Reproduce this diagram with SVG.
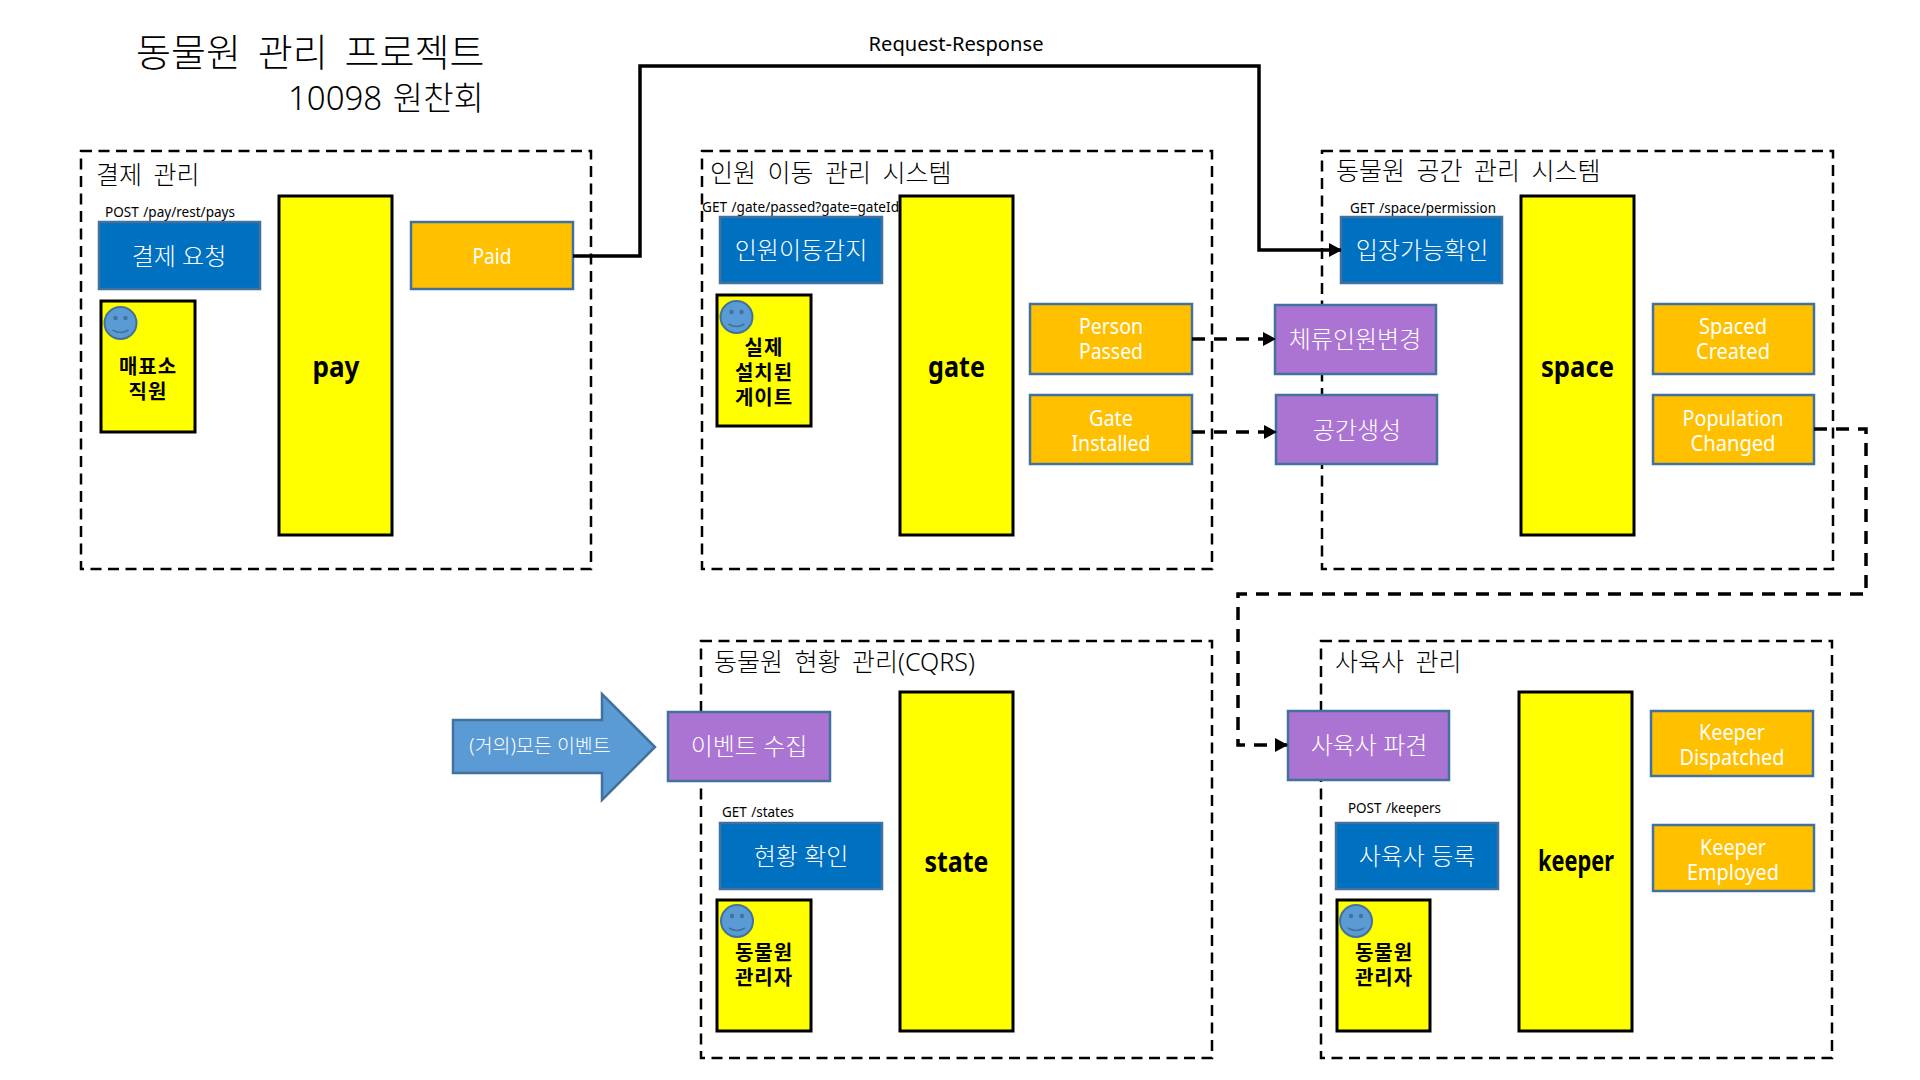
<svg xmlns="http://www.w3.org/2000/svg" width="1920" height="1080" viewBox="0 0 1920 1080">
<style>
text{font-family:"Noto Sans","Noto Sans CJK KR",sans-serif;}
.zone{fill:none;stroke:#000;stroke-width:2.5;stroke-dasharray:11 6.5}
.bar{fill:#ff0;stroke:#000;stroke-width:3}
.cmd{fill:#0070c0;stroke:#41719c;stroke-width:2.5}
.evt{fill:#ffc000;stroke:#41719c;stroke-width:2.5}
.pol{fill:#ab74d3;stroke:#41719c;stroke-width:2.5}
.act{fill:#ff0;stroke:#000;stroke-width:3}
.lab{fill:#fff;font-size:24px;font-weight:300;text-anchor:middle}
.lab2{fill:#fff;font-size:21px;text-anchor:middle}
.barT{fill:#000;font-size:28px;font-weight:700;text-anchor:middle}
.actT{fill:#000;font-size:20px;font-weight:700;letter-spacing:1px;text-anchor:middle}
.zt{fill:#000;font-size:25px;font-weight:300;word-spacing:5px}
.api{fill:#000;font-size:13.500px;word-spacing:1px}
.solid{fill:none;stroke:#000;stroke-width:3.500}
.dash{fill:none;stroke:#000;stroke-width:3.500;stroke-dasharray:13 9}
.face{fill:#5b9bd5;stroke:#41719c;stroke-width:2}
.fd{fill:#41719c}
.sm{fill:none;stroke:#41719c;stroke-width:1.500}
</style>
<defs>
<marker id="ah" markerUnits="userSpaceOnUse" markerWidth="13" markerHeight="14" refX="12" refY="7" orient="auto"><path d="M0 0L13 7L0 14z" fill="#000"/></marker>
<g id="smile"><circle class="face" cx="0" cy="0" r="16"/><circle class="fd" cx="-5" cy="-5" r="2.200"/><circle class="fd" cx="5" cy="-5" r="2.200"/><path class="sm" d="M-8 7Q0 12 8 7"/></g>
</defs>

<text x="136" y="66" font-size="38" font-weight="300" word-spacing="7" fill="#000">동물원 관리 프로젝트</text>
<text x="288" y="110" font-size="33" font-weight="300" word-spacing="2" fill="#000">10098 원찬회</text>

<g id="zones">
<rect class="zone" x="81" y="151" width="510" height="418"/>
<rect class="zone" x="702" y="151" width="510" height="418"/>
<rect class="zone" x="1322" y="151" width="511" height="418"/>
<rect class="zone" x="701" y="641" width="511" height="417"/>
<rect class="zone" x="1321" y="641" width="511" height="417"/>
</g>

<g id="zone-titles">
<text class="zt" x="96" y="184">결제 관리</text>
<text class="zt" x="710" y="182">인원 이동 관리 시스템</text>
<text class="zt" x="1336" y="180">동물원 공간 관리 시스템</text>
<text class="zt" x="714" y="671">동물원 현황 관리(CQRS)</text>
<text class="zt" x="1335" y="671">사육사 관리</text>
</g>

<g id="pay-service">
<text class="api" x="105" y="217" textLength="130" lengthAdjust="spacingAndGlyphs">POST /pay/rest/pays</text>
<g id="pay-cmd"><rect class="cmd" x="99" y="222" width="161" height="67"/><text class="lab" x="179" y="265">결제 요청</text></g>
<g id="pay-actor"><rect class="act" x="101" y="301" width="94" height="131"/><use href="#smile" x="120.500" y="323"/><text class="actT" x="148" y="374">매표소</text><text class="actT" x="148" y="399">직원</text></g>
<g id="pay"><rect class="bar" x="279" y="196" width="113" height="339"/><text class="barT" x="336" y="377" textLength="47" lengthAdjust="spacingAndGlyphs">pay</text></g>
<g id="paid"><rect class="evt" x="411" y="222" width="162" height="67"/><text class="lab2" x="492" y="264" textLength="39" lengthAdjust="spacingAndGlyphs">Paid</text></g>
</g>

<g id="gate-service">
<text class="api" x="702" y="212" textLength="197" lengthAdjust="spacingAndGlyphs">GET /gate/passed?gate=gateId</text>
<g id="gate-cmd"><rect class="cmd" x="720" y="217" width="162" height="66"/><text class="lab" x="801" y="259">인원이동감지</text></g>
<g id="gate-actor"><rect class="act" x="717" y="295" width="94" height="131"/><use href="#smile" x="736.500" y="317"/><text class="actT" x="764" y="355">실제</text><text class="actT" x="764" y="380">설치된</text><text class="actT" x="764" y="405">게이트</text></g>
<g id="gate"><rect class="bar" x="900" y="196" width="113" height="339"/><text class="barT" x="956.500" y="377" textLength="57" lengthAdjust="spacingAndGlyphs">gate</text></g>
<g id="person-passed"><rect class="evt" x="1030" y="304" width="162" height="70"/><text class="lab2" x="1111" y="334" textLength="64" lengthAdjust="spacingAndGlyphs">Person</text><text class="lab2" x="1111" y="359" textLength="64" lengthAdjust="spacingAndGlyphs">Passed</text></g>
<g id="gate-installed"><rect class="evt" x="1030" y="395" width="162" height="69"/><text class="lab2" x="1111" y="426" textLength="44" lengthAdjust="spacingAndGlyphs">Gate</text><text class="lab2" x="1111" y="451" textLength="79" lengthAdjust="spacingAndGlyphs">Installed</text></g>
</g>

<g id="space-service">
<text class="api" x="1350" y="213" textLength="146" lengthAdjust="spacingAndGlyphs">GET /space/permission</text>
<g id="space-cmd"><rect class="cmd" x="1341" y="217" width="161" height="66"/><text class="lab" x="1422" y="259">입장가능확인</text></g>
<g id="stay-changed"><rect class="pol" x="1275" y="305" width="161" height="69"/><text class="lab" x="1355" y="348">체류인원변경</text></g>
<g id="space-create"><rect class="pol" x="1276" y="395" width="161" height="69"/><text class="lab" x="1357" y="439">공간생성</text></g>
<g id="space"><rect class="bar" x="1521" y="196" width="113" height="339"/><text class="barT" x="1577.500" y="377" textLength="73" lengthAdjust="spacingAndGlyphs">space</text></g>
<g id="spaced-created"><rect class="evt" x="1653" y="304" width="161" height="70"/><text class="lab2" x="1733" y="334" textLength="68" lengthAdjust="spacingAndGlyphs">Spaced</text><text class="lab2" x="1733" y="359" textLength="74" lengthAdjust="spacingAndGlyphs">Created</text></g>
<g id="population-changed"><rect class="evt" x="1653" y="395" width="161" height="69"/><text class="lab2" x="1733" y="426" textLength="101" lengthAdjust="spacingAndGlyphs">Population</text><text class="lab2" x="1733" y="451" textLength="85" lengthAdjust="spacingAndGlyphs">Changed</text></g>
</g>

<g id="state-service">
<g id="all-events"><path d="M453 720H602V694L655 747L602 800V773H453z" fill="#5b9bd5" stroke="#41719c" stroke-width="2.500"/><text x="540" y="753" font-size="19.500" font-weight="300" fill="#fff" text-anchor="middle">(거의)모든 이벤트</text></g>
<g id="collect"><rect class="pol" x="668" y="712" width="162" height="69"/><text class="lab" x="749" y="755">이벤트 수집</text></g>
<text class="api" x="722" y="817" textLength="72" lengthAdjust="spacingAndGlyphs">GET /states</text>
<g id="state-cmd"><rect class="cmd" x="720" y="823" width="162" height="66"/><text class="lab" x="801" y="865">현황 확인</text></g>
<g id="state-actor"><rect class="act" x="717" y="900" width="94" height="131"/><use href="#smile" x="737" y="921"/><text class="actT" x="764" y="960">동물원</text><text class="actT" x="764" y="985">관리자</text></g>
<g id="state"><rect class="bar" x="900" y="692" width="113" height="339"/><text class="barT" x="956.500" y="872" textLength="64" lengthAdjust="spacingAndGlyphs">state</text></g>
</g>

<g id="keeper-service">
<g id="dispatch"><rect class="pol" x="1288" y="711" width="161" height="69"/><text class="lab" x="1369" y="754">사육사 파견</text></g>
<text class="api" x="1348" y="813" textLength="93" lengthAdjust="spacingAndGlyphs">POST /keepers</text>
<g id="keeper-cmd"><rect class="cmd" x="1336" y="823" width="162" height="66"/><text class="lab" x="1417" y="865">사육사 등록</text></g>
<g id="keeper-actor"><rect class="act" x="1337" y="900" width="93" height="131"/><use href="#smile" x="1356" y="921"/><text class="actT" x="1384" y="960">동물원</text><text class="actT" x="1384" y="985">관리자</text></g>
<g id="keeper"><rect class="bar" x="1519" y="692" width="113" height="339"/><text class="barT" x="1576" y="871" textLength="76" lengthAdjust="spacingAndGlyphs">keeper</text></g>
<g id="keeper-dispatched"><rect class="evt" x="1651" y="711" width="162" height="65"/><text class="lab2" x="1732" y="740" textLength="66" lengthAdjust="spacingAndGlyphs">Keeper</text><text class="lab2" x="1732" y="765" textLength="105" lengthAdjust="spacingAndGlyphs">Dispatched</text></g>
<g id="keeper-employed"><rect class="evt" x="1653" y="825" width="161" height="66"/><text class="lab2" x="1733" y="855" textLength="66" lengthAdjust="spacingAndGlyphs">Keeper</text><text class="lab2" x="1733" y="880" textLength="92" lengthAdjust="spacingAndGlyphs">Employed</text></g>
</g>

<g id="connectors">
<path class="solid" d="M573 256H640V66H1259V250H1341" marker-end="url(#ah)"/>
<text x="956" y="51" font-size="20" fill="#000" text-anchor="middle" textLength="175" lengthAdjust="spacingAndGlyphs">Request-Response</text>
<path class="dash" d="M1192 339H1275" marker-end="url(#ah)"/>
<path class="dash" d="M1192 432H1276" marker-end="url(#ah)"/>
<path class="dash" d="M1814 429H1866V594H1238V745H1287" marker-end="url(#ah)"/>
</g>
</svg>
